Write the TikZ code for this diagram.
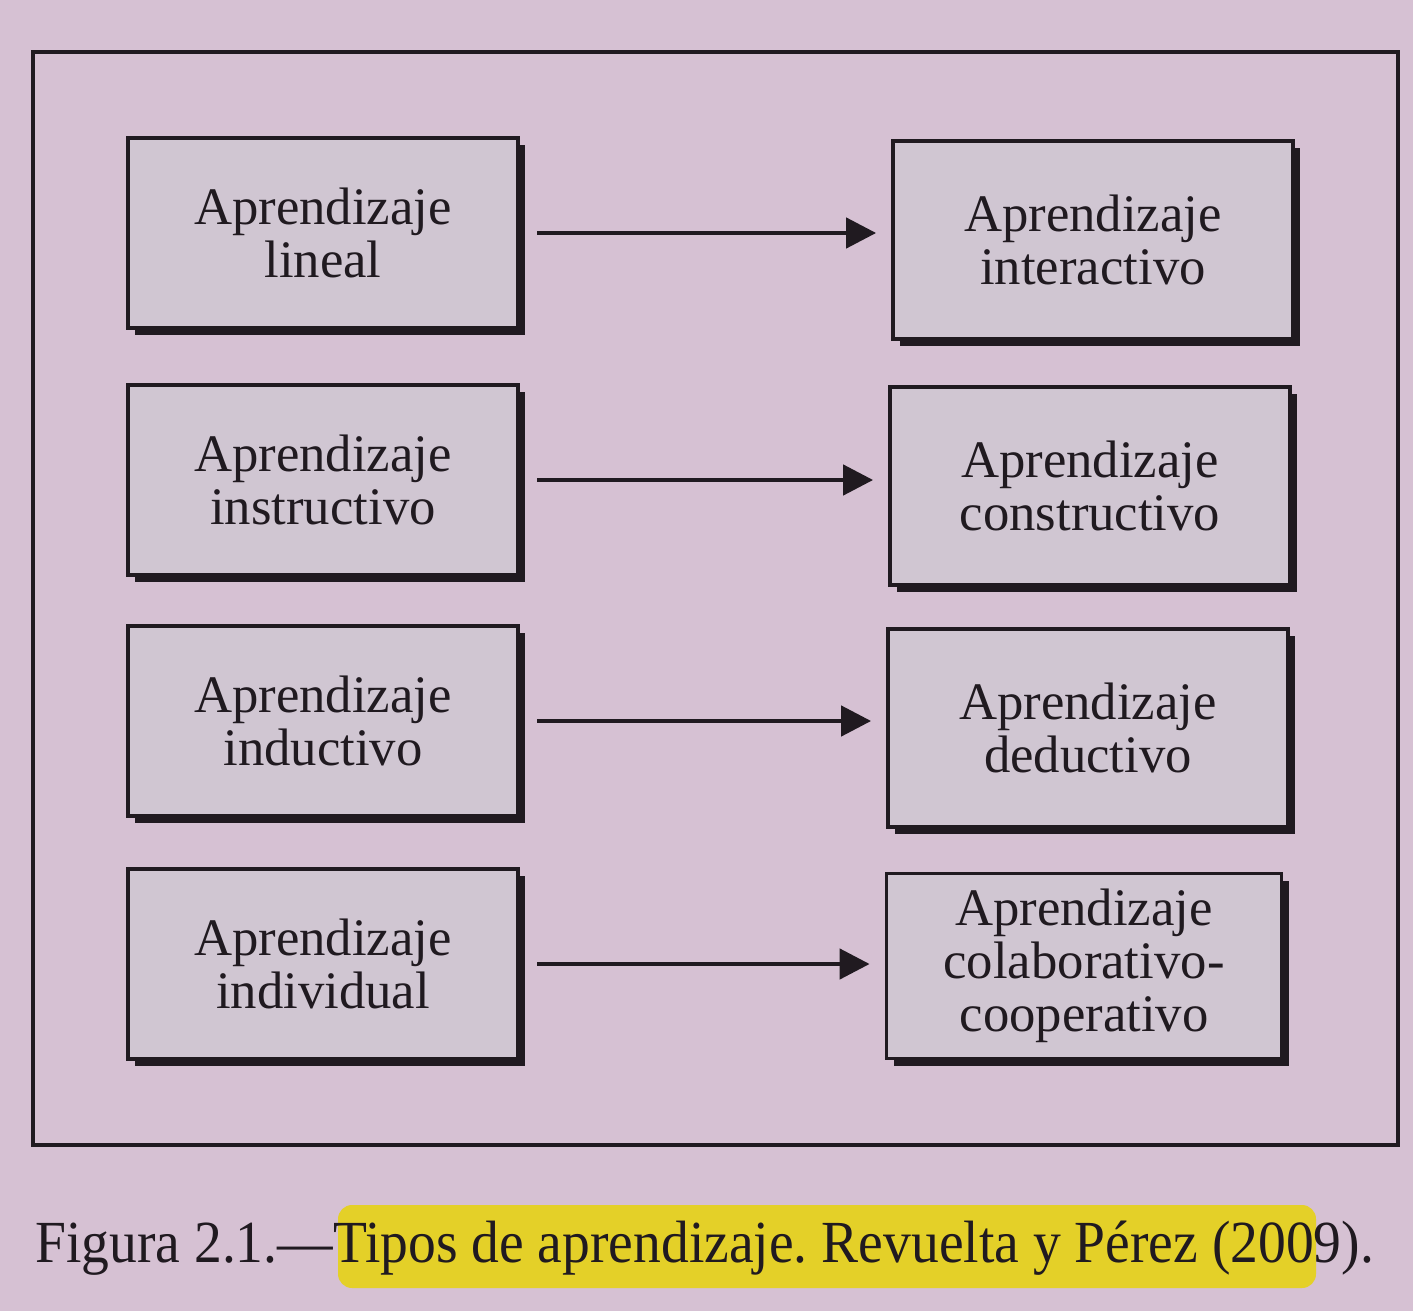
\documentclass[tikz,border=0pt]{standalone}
\usepackage{fontspec}
\setmainfont{Liberation Serif}
\usetikzlibrary{arrows.meta,positioning,shadows}
\definecolor{paper}{RGB}{214,193,211}
\definecolor{boxfill}{RGB}{208,198,210}
\definecolor{ink}{RGB}{32,26,32}
\definecolor{marker}{RGB}{228,208,40}
\frenchspacing

\begin{document}
\begin{tikzpicture}[x=0.02cm, y=-0.02cm,
    box/.style={draw=ink, line width=2.2pt, fill=boxfill, minimum width=7.8cm, minimum height=3.8cm, align=center, text=ink,
      font=\fontsize{30}{30}\selectfont,
      drop shadow={shadow xshift=4pt, shadow yshift=-4pt, fill=ink, opacity=1}},
    arr/.style={-{Triangle[length=0.6cm, width=0.6cm]}, line width=2.6pt, draw=ink, shorten <=0.35cm, shorten >=0.3cm}
]
\fill[paper] (0,0) rectangle (1413,1311);
\useasboundingbox (0,0) rectangle (1413,1311);
\draw[ink, line width=2.2pt] (33,52) rectangle (1398,1145);

\node[box] (lin) at (323,233) {Aprendizaje\\lineal};
\node[box] (ins) at (323,480) {Aprendizaje\\instructivo};
\node[box] (ind) at (323,721) {Aprendizaje\\inductivo};
\node[box] (indiv) at (323,964) {Aprendizaje\\individual};
\node[box, minimum width=8cm, minimum height=3.95cm] (int) at (1093,240) {Aprendizaje\\interactivo};
\node[box, minimum width=8cm, minimum height=3.95cm] (con) at (1090,486) {Aprendizaje\\constructivo};
\node[box, minimum width=8cm, minimum height=3.95cm] (ded) at (1088,728) {Aprendizaje\\deductivo};
\node[box, minimum width=7.9cm, minimum height=3.7cm] (col) at (1084,966) {Aprendizaje\\colaborativo-\\cooperativo};

\draw[arr] (lin.east) -- (lin.east -| int.west);
\draw[arr] (ins.east) -- (ins.east -| con.west);
\draw[arr] (ind.east) -- (ind.east -| ded.west);
\draw[arr] (indiv.east) -- (indiv.east -| col.west);

% caption
\fill[marker, rounded corners=8pt] (338,1205) rectangle (1316,1288);
\node[anchor=base west, text=ink, font=\fontsize{34}{36}\selectfont, xscale=0.93, transform shape, inner sep=0pt] (cap) at (35,1262)
  {Figura 2.1.---Tipos de aprendizaje. Revuelta y Pérez (2009).};
\end{tikzpicture}
\end{document}
